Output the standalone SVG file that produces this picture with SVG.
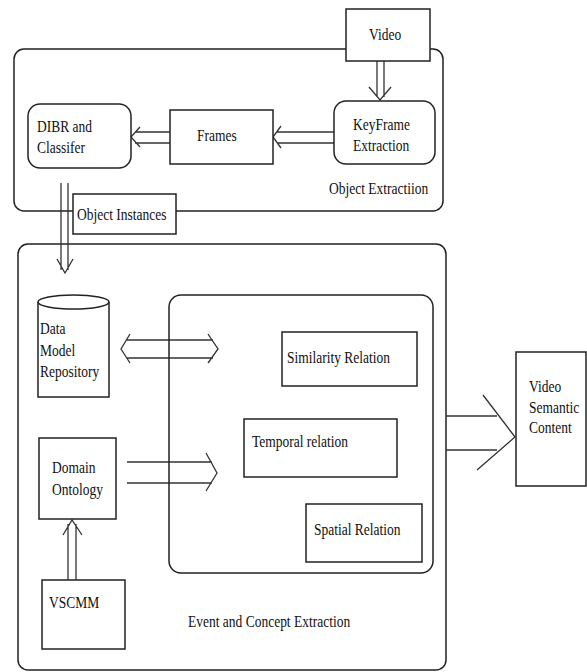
<svg xmlns="http://www.w3.org/2000/svg" width="587" height="672" viewBox="0 0 587 672">
<style>
.box{fill:#fff;stroke:#222;stroke-width:1.5}
.frame{fill:none;stroke:#222;stroke-width:1.5}
.ln{fill:none;stroke:#333;stroke-width:1.3}
text{font-family:"Liberation Serif","Times New Roman",serif;font-size:13.5px;fill:#111}
</style>
<rect width="587" height="672" fill="#fff"/>
<g id="object-extraction">
<rect class="frame" x="14" y="49" width="429" height="162" rx="10"/>
<text transform="translate(329,194) scale(1,1.3)">Object Extractiion</text>
</g>
<g id="event-concept-extraction">
<rect class="frame" x="18" y="244" width="428" height="426" rx="10"/>
<text transform="translate(188,627) scale(1,1.3)">Event and Concept Extraction</text>
</g>
<g id="connectors">
<path class="ln" d="M377,61V97M384,61V97M369,87L380,100L391,87"/>
<path class="ln" d="M334,132H277M334,143H277M281,126L273,137L281,148"/>
<path class="ln" d="M170,132H135M170,143H135M140,127L131,137L140,147"/>
<path class="ln" d="M61,183V270M68,183V270M57,259L65,273L73,259"/>
<path class="ln" d="M127,340H213M127,358H213M130,334L121,349L130,363M208,334L218,349L208,363"/>
<path class="ln" d="M127,462H212M127,483H212M206,453L217,473L206,491"/>
<path class="ln" d="M446,416H497M446,450H497M483,395L515,437L477,470"/>
<path class="ln" d="M68,580V524M76,580V524M63,535L72,520L82,535"/>
</g>
<g id="inner-relations">
<rect class="frame" x="169" y="295" width="264" height="278" rx="12"/>
</g>
<g id="video">
<rect class="box" x="346" y="9" width="84" height="52"/>
<text transform="translate(369,40) scale(1,1.3)">Video</text>
</g>
<g id="keyframe-extraction">
<rect class="box" x="334" y="101" width="101" height="63" rx="12"/>
<text transform="translate(353,130) scale(1,1.3)">KeyFrame</text>
<text transform="translate(353,151) scale(1,1.3)">Extraction</text>
</g>
<g id="frames">
<rect class="box" x="170" y="110" width="103" height="54"/>
<text transform="translate(197,141) scale(1,1.3)">Frames</text>
</g>
<g id="dibr-classifier">
<rect class="box" x="28" y="104" width="103" height="64" rx="12"/>
<text transform="translate(37,132) scale(1,1.3)">DIBR and</text>
<text transform="translate(37,153) scale(1,1.3)">Classifer</text>
</g>
<g id="object-instances">
<rect class="box" x="73" y="194" width="103" height="40"/>
<text transform="translate(77,220) scale(1,1.3)">Object Instances</text>
</g>
<g id="data-model-repository">
<path class="box" d="M38,302V397H109V302"/>
<ellipse class="box" cx="73.5" cy="302" rx="35.5" ry="7"/>
<text transform="translate(40,334) scale(1,1.3)">Data</text>
<text transform="translate(40,356) scale(1,1.3)">Model</text>
<text transform="translate(40,377) scale(1,1.3)">Repository</text>
</g>
<g id="domain-ontology">
<rect class="box" x="39" y="438" width="77" height="81"/>
<text transform="translate(52,473) scale(1,1.3)">Domain</text>
<text transform="translate(52,495) scale(1,1.3)">Ontology</text>
</g>
<g id="vscmm">
<rect class="box" x="42" y="580" width="83" height="69"/>
<text transform="translate(49,608) scale(1,1.3)">VSCMM</text>
</g>
<g id="similarity-relation">
<rect class="box" x="282" y="332" width="135" height="54"/>
<text transform="translate(287,363) scale(1,1.3)">Similarity Relation</text>
</g>
<g id="temporal-relation">
<rect class="box" x="244" y="419" width="153" height="58"/>
<text transform="translate(252,447) scale(1,1.3)">Temporal relation</text>
</g>
<g id="spatial-relation">
<rect class="box" x="306" y="504" width="116" height="58"/>
<text transform="translate(314,535) scale(1,1.3)">Spatial Relation</text>
</g>
<g id="video-semantic-content">
<rect class="box" x="516" y="352" width="70" height="134"/>
<text transform="translate(529,392) scale(1,1.3)">Video</text>
<text transform="translate(529,413) scale(1,1.3)">Semantic</text>
<text transform="translate(529,433) scale(1,1.3)">Content</text>
</g>
</svg>
